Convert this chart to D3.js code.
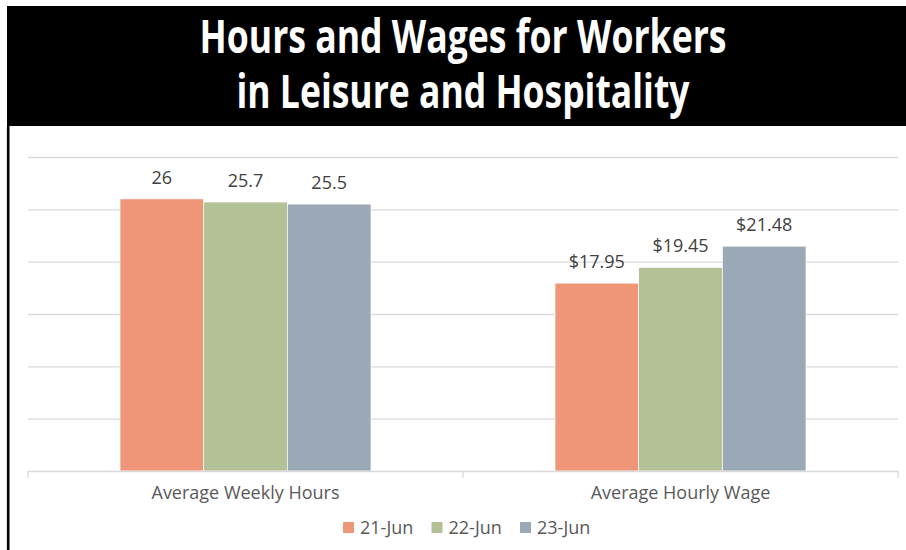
<!DOCTYPE html>
<html>
<head>
<meta charset="utf-8">
<script src="https://cdn.jsdelivr.net/npm/d3@7"></script>
<style>
  body { margin: 0; background: #fff; }
  text { font-family: "Open Sans", sans-serif; }
</style>
</head>
<body>
<div id="chart"></div>
<script>
// chart values
var titleLines = ["Hours and Wages for Workers", "in Leisure and Hospitality"];
var categories = ["Average Weekly Hours", "Average Hourly Wage"];
var seriesNames = ["21-Jun", "22-Jun", "23-Jun"];
var hoursValues = [26, 25.7, 25.5];
var wageValues = [17.95, 19.45, 21.48];
var yTicks = [0, 5, 10, 15, 20, 25, 30];

var colors = ["#F09678", "#B4C196", "#9BA8B5"];

var width = 906;
var height = 550;

var svg = d3.select("#chart")
  .append("svg")
  .attr("width", width)
  .attr("height", height);

svg.append("rect")
  .attr("width", width)
  .attr("height", height)
  .attr("fill", "#fff");

// black header band
svg.append("rect")
  .attr("x", 7)
  .attr("y", 6)
  .attr("width", width - 7)
  .attr("height", 120)
  .attr("fill", "#000");

// left border line
svg.append("line")
  .attr("x1", 8.2).attr("x2", 8.2)
  .attr("y1", 126).attr("y2", height)
  .attr("stroke", "#000")
  .attr("stroke-width", 2.6);

// title
var titleWidths = [527, 453];
svg.selectAll(".title")
  .data(titleLines)
  .enter()
  .append("text")
  .attr("class", "title")
  .attr("x", 463)
  .attr("y", function(d, i) { return 53 + i * 55; })
  .attr("text-anchor", "middle")
  .attr("fill", "#fff")
  .attr("font-size", 46)
  .attr("font-weight", "bold")
  .attr("textLength", function(d, i) { return titleWidths[i]; })
  .attr("lengthAdjust", "spacingAndGlyphs")
  .text(function(d) { return d; });

// plot area
var plotLeft = 28, plotRight = 898, plotTop = 157, plotBottom = 471;
var pad = 0.423;

var x0 = d3.scaleBand()
  .domain(categories)
  .range([plotLeft, plotRight])
  .paddingInner(pad)
  .paddingOuter(pad / 2);

var x1 = d3.scaleBand()
  .domain(seriesNames)
  .range([0, x0.bandwidth()]);

var y = d3.scaleLinear()
  .domain([0, 30])
  .range([plotBottom, plotTop]);

// gridlines
var grid = svg.append("g")
  .attr("transform", "translate(" + plotLeft + ",0)")
  .call(d3.axisLeft(y).tickValues(yTicks.slice(1)).tickSize(-(plotRight - plotLeft)).tickFormat(""));
grid.select(".domain").remove();
grid.selectAll("line").attr("stroke", "#d9d9d9").attr("stroke-width", 1.3);

// rows of data per category
var rows = categories.map(function(c, i) {
  var vals = i === 0 ? hoursValues : wageValues;
  return seriesNames.map(function(s, j) {
    return { cat: c, series: s, value: vals[j], wage: i === 1, color: colors[j] };
  });
});

var groups = svg.selectAll(".group")
  .data(rows)
  .enter()
  .append("g")
  .attr("class", "group")
  .attr("transform", function(d, i) { return "translate(" + x0(categories[i]) + ",0)"; });

groups.selectAll("rect")
  .data(function(d) { return d; })
  .enter()
  .append("rect")
  .attr("x", function(d) { return x1(d.series); })
  .attr("y", function(d) { return y(d.value); })
  .attr("width", x1.bandwidth())
  .attr("height", function(d) { return y(0) - y(d.value); })
  .attr("fill", function(d) { return d.color; })
  .attr("stroke", "#fff")
  .attr("stroke-width", 0.7);

groups.selectAll(".val")
  .data(function(d) { return d; })
  .enter()
  .append("text")
  .attr("class", "val")
  .attr("x", function(d) { return x1(d.series) + x1.bandwidth() / 2; })
  .attr("y", function(d) { return y(d.value) - 15; })
  .attr("text-anchor", "middle")
  .attr("font-size", 18)
  .attr("fill", "#404040")
  .text(function(d) { return d.wage ? "$" + d.value.toFixed(2) : d.value; });

// x axis baseline and boundary ticks
svg.append("line")
  .attr("x1", plotLeft).attr("x2", plotRight)
  .attr("y1", plotBottom + 0.5).attr("y2", plotBottom + 0.5)
  .attr("stroke", "#d9d9d9")
  .attr("stroke-width", 1.3);

var bounds = [plotLeft].concat(categories.map(function(c) {
  return x0(c) + x0.bandwidth() + x0.step() * pad / 2;
}));
svg.selectAll(".btick")
  .data(bounds)
  .enter()
  .append("line")
  .attr("x1", function(d) { return d; })
  .attr("x2", function(d) { return d; })
  .attr("y1", plotBottom)
  .attr("y2", plotBottom + 7)
  .attr("stroke", "#d9d9d9")
  .attr("stroke-width", 1.3);

svg.selectAll(".catLabel")
  .data(categories)
  .enter()
  .append("text")
  .attr("class", "catLabel")
  .attr("x", function(d) { return x0(d) + x0.bandwidth() / 2; })
  .attr("y", 499)
  .attr("text-anchor", "middle")
  .attr("font-size", 18)
  .attr("fill", "#595959")
  .text(function(d) { return d; });

// legend
var legend = svg.selectAll(".legend")
  .data(seriesNames)
  .enter()
  .append("g")
  .attr("class", "legend")
  .attr("transform", function(d, i) { return "translate(" + (343 + i * 88.5) + ",522)"; });

legend.append("rect")
  .attr("width", 11)
  .attr("height", 11)
  .attr("fill", function(d, i) { return colors[i]; });

legend.append("text")
  .attr("x", 17)
  .attr("y", 11.5)
  .attr("font-size", 18)
  .attr("fill", "#595959")
  .text(function(d) { return d; });
</script>
</body>
</html>
